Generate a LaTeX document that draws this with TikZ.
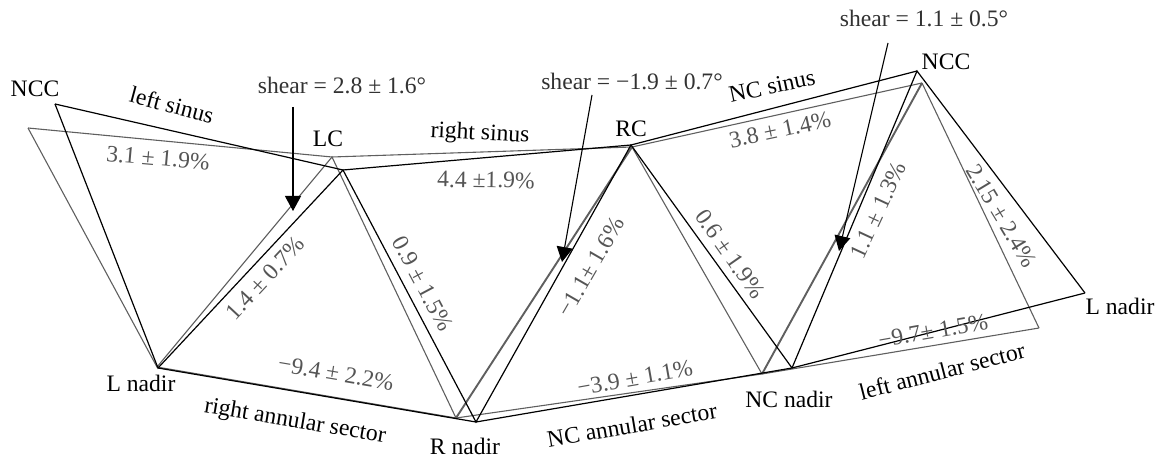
\documentclass[tikz,border=0pt]{standalone}
\usepackage{fontspec}
\setmainfont{Liberation Serif}
\usetikzlibrary{arrows.meta}
\definecolor{refgray}{RGB}{95,95,95}
\definecolor{pctgray}{RGB}{85,85,85}
\definecolor{sheartxt}{RGB}{50,50,50}
\tikzset{
  deformed/.style={draw=black, line width=1.2pt, line join=miter},
  reference/.style={draw=refgray, line width=1.1pt},
  refthick/.style={draw=refgray, line width=1.9pt},
  lbl/.style={inner sep=0pt, font=\fontsize{23.6}{26}\selectfont, text=black},
  pct/.style={inner sep=0pt, font=\fontsize{23.6}{26}\selectfont, text=pctgray},
  shearlbl/.style={inner sep=0pt, font=\fontsize{23.6}{26}\selectfont, text=sheartxt},
  sheararrow/.style={draw=black, line width=1.1pt, -{Triangle[length=15pt,width=16pt]}}
}
\begin{document}
\begin{tikzpicture}[x=1pt,y=-1pt]
\useasboundingbox (0,0) rectangle (1163,457);
% reference (gray) vertices
\coordinate (gNCCL) at (28,128);
\coordinate (gLnL)  at (157,367);
\coordinate (gLC)   at (332,157);
\coordinate (gRn)   at (456,418);
\coordinate (gRC)   at (632,147);
\coordinate (gNCn)  at (762,374);
\coordinate (gNCCR) at (922,83);
\coordinate (gLnR)  at (1039,328);
% deformed (black) vertices
\coordinate (bNCCL) at (55,104);
\coordinate (bLnL)  at (158,368);
\coordinate (bLC)   at (343,170);
\coordinate (bRn)   at (476,422);
\coordinate (bRC)   at (631,145);
\coordinate (bNCn)  at (792,368);
\coordinate (bNCCR) at (917,71);
\coordinate (bLnR)  at (1085,293);
% reference mesh
\draw[reference] (gNCCL) -- (gLnL) -- (gLC) -- (gRn);
\draw[refthick] (gRn) -- (gRC);
\draw[reference] (gRC) -- (gNCn);
\draw[refthick] (gNCn) -- (gNCCR);
\draw[reference] (gNCCR) -- (gLnR);
\draw[reference] (gNCCL) -- (gLC) -- (gRC) -- (gNCCR);
\draw[reference] (gLnL) -- (gRn) -- (gNCn) -- (gLnR);
% deformed mesh
\draw[deformed] (bNCCL) -- (bLnL) -- (bLC) -- (bRn) -- (bRC) -- (bNCn) -- (bNCCR) -- (bLnR);
\draw[deformed] (bNCCL) -- (bLC) -- (bRC) -- (bNCCR);
\draw[deformed] (bLnL) -- (bRn) -- (bNCn) -- (bLnR);
% vertex labels
\node[lbl] (tNCCL) at (35,89) {NCC};
\node[lbl] (tLC)   at (328,139) {LC};
\node[lbl] (tRC)   at (631,129) {RC};
\node[lbl] (tNCCR) at (946,62) {NCC};
\node[lbl] (tLnL)  at (141,383) {L nadir};
\node[lbl] (tRn)   at (465,446) {R nadir};
\node[lbl] (tNCn)  at (789,399) {NC nadir};
\node[lbl] (tLnR)  at (1120,306) {L nadir};
% region labels
\node[lbl, rotate=-15] (tls)  at (172,105) {left sinus};
\node[lbl, rotate=-3]  (trs)  at (480,134) {right sinus};
\node[lbl, rotate=12]  (tncs) at (772,86) {NC sinus};
\node[lbl, rotate=-9.6] (tras) at (295,422) {right annular sector};
\node[lbl, rotate=9.7]  (tncas) at (632,425) {NC annular sector};
\node[lbl, rotate=14.5] (tlas) at (942,371) {left annular sector};
% strain labels
\node[pct, rotate=-5]   (p1) at (158,158) {3.1 ± 1.9\%};
\node[pct, rotate=-1]   (p2) at (486,180) {4.4 ±1.9\%};
\node[pct, rotate=12]   (p3) at (780,130) {3.8 ± 1.4\%};
\node[pct, rotate=47]   (p4) at (265,278) {1.4 ± 0.7\%};
\node[pct, rotate=-62]  (p5) at (423,284) {0.9 ± 1.5\%};
\node[pct, rotate=60]   (p6) at (591,267) {−1.1± 1.6\%};
\node[pct, rotate=-55]  (p7) at (730,254) {0.6 ± 1.9\%};
\node[pct, rotate=65]   (p8) at (878,210) {1.1 ± 1.3\%};
\node[pct, rotate=-59]  (p9) at (1002,216) {2.15 ± 2.4\%};
\node[pct, rotate=-9.6] (p10) at (336,373) {−9.4 ± 2.2\%};
\node[pct, rotate=10]   (p11) at (635,378) {−3.9 ± 1.1\%};
\node[pct, rotate=10]   (p12) at (933,331) {−9.7± 1.5\%};
% shear labels and arrows
\node[shearlbl] (s1) at (342,85) {shear = 2.8 ± 1.6°};
\node[shearlbl] (s2) at (632,81) {shear = −1.9 ± 0.7°};
\node[shearlbl] (s3) at (924,18) {shear = 1.1 ± 0.5°};
\coordinate (a1s) at (293,107);
\coordinate (a1e) at (293,211);
\coordinate (a2s) at (592,95);
\coordinate (a2e) at (562,262);
\coordinate (a3s) at (888,43);
\coordinate (a3e) at (839,251);
\draw[sheararrow] (a1s) -- (a1e);
\draw[sheararrow] (a2s) -- (a2e);
\draw[sheararrow] (a3s) -- (a3e);
\end{tikzpicture}
\end{document}
